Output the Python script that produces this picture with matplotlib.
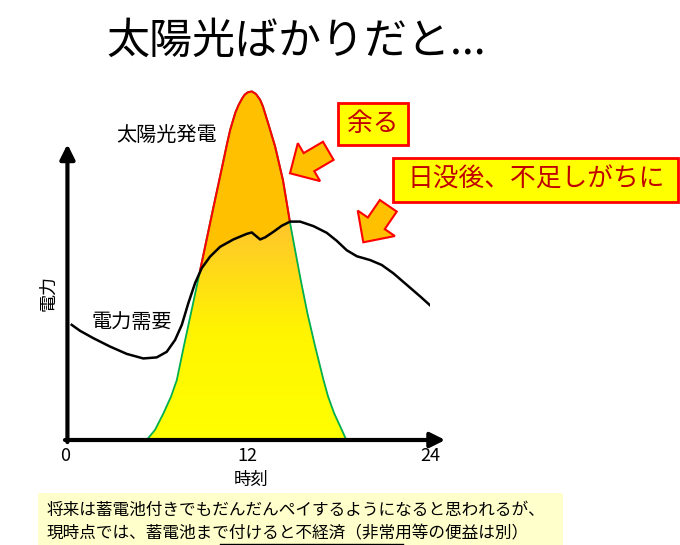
import numpy as np
import matplotlib
matplotlib.use('Agg')
import matplotlib.pyplot as plt
from matplotlib.colors import LinearSegmentedColormap
from matplotlib.patches import Rectangle, FancyArrow

plt.rcParams['font.family'] = ['Noto Sans CJK JP', 'DejaVu Sans']

# solar output over the day (hour, relative power)
solar_hours = [5.37, 5.92, 6.47, 6.97, 7.35, 7.81, 8.28, 8.75, 9.21, 9.67, 10.15,
               10.61, 10.86, 11.18, 11.4, 11.62, 11.8, 12.0, 12.28, 12.55, 12.83,
               13.0, 13.16, 13.49, 13.82, 14.33, 14.8, 15.09, 15.5, 15.94, 16.45,
               17.0, 17.3, 17.7, 18.2, 18.5]
solar_power = [0, 2.9, 7.6, 12.4, 17.1, 26.7, 36.2, 45.7, 55.2, 64.8, 74.3,
               83.8, 88.6, 93.3, 95.6, 97.4, 98.6, 99.3, 99.6, 98.9, 97.2,
               95.5, 93.3, 88.6, 83.8, 74.3, 62.0, 55.2, 45.7, 36.2, 26.7,
               17.1, 12.4, 7.6, 2.9, 0]

# electricity demand over the day
demand_hours = [0.44, 0.99, 1.86, 2.96, 4.06, 5.15, 6.03, 6.69, 7.24, 7.68, 8.11,
                8.55, 8.99, 9.54, 10.2, 11.07, 11.95, 12.28, 12.61, 12.83, 13.16,
                13.71, 14.25, 14.8, 15.46, 16.34, 17.21, 17.87, 18.53, 19.19, 20.07,
                20.83, 21.6, 22.48, 23.36, 24.23]
demand_power = [32.9, 31.2, 29.1, 26.7, 24.6, 23.3, 23.6, 25.2, 28.6, 32.9, 39.1,
                44.8, 49.1, 52.4, 55.2, 57.3, 58.9, 59.3, 58.1, 57.3, 57.9,
                59.5, 61.2, 62.4, 62.4, 61.1, 59.2, 56.9, 54.2, 52.5, 51.4,
                50.0, 47.6, 44.3, 41.0, 37.6]

hour_ticks = [0, 12, 24]

title = '太陽光ばかりだと...'
note_lines = ['将来は蓄電池付きでもだんだんペイするようになると思われるが、',
              '現時点では、蓄電池まで付けると不経済（非常用等の便益は別）']

fig = plt.figure(figsize=(6.8, 5.45), dpi=100)

# main chart axes: x 0..24 -> px 65..430, y 0..100 -> px 440..90
ax = fig.add_axes([65 / 680, 105 / 545, 365 / 680, 350 / 545])
for sp in ax.spines.values():
    sp.set_visible(False)

# whole solar area in orange (the surplus part stays orange)
ax.fill_between(solar_hours, solar_power, 0, color='#FFC000', lw=0, zorder=1)

# part of the solar area below demand gets the yellow gradient
grid = np.linspace(solar_hours[0], solar_hours[-1], 600)
s = np.interp(grid, solar_hours, solar_power)
d = np.interp(grid, demand_hours, demand_power)
lower = np.minimum(s, d)
clip = ax.fill_between(grid, lower, 0, facecolor='none', edgecolor='none')
cmap = LinearSegmentedColormap.from_list('sun', ['#FFFF00', '#FFF500', '#FFC52C'])
grad = np.linspace(0, 1, 256).reshape(-1, 1)
img = ax.imshow(grad, extent=[0, 24, 0, 62], origin='lower', aspect='auto',
                cmap=cmap, zorder=2)
img.set_clip_path(clip.get_paths()[0], transform=ax.transData)

# outlines
ax.plot(solar_hours, solar_power, color='#00B050', lw=1.3, zorder=3)
upper = np.where(s > d + 0.3, s, np.nan)
ax.plot(grid, upper, color='red', lw=1.5, zorder=3)
ax.plot(demand_hours, demand_power, color='black', lw=1.8, zorder=4)

ax.set_xlim(0, 24)
ax.set_ylim(0, 100)

# axis arrows
ax.annotate('', xy=(25.0, 0), xytext=(0.0, 0), annotation_clip=False,
            arrowprops=dict(arrowstyle='-|>', lw=3, color='black',
                            mutation_scale=22, shrinkA=0, shrinkB=0))
ax.annotate('', xy=(0.16, 84.5), xytext=(0.16, -0.6), annotation_clip=False,
            arrowprops=dict(arrowstyle='-|>', lw=3, color='black',
                            mutation_scale=22, shrinkA=0, shrinkB=0))

ax.set_xticks(hour_ticks)
ax.set_xticklabels([str(h) for h in hour_ticks])
ax.set_yticks([])
ax.tick_params(axis='x', length=0, pad=5, labelsize=13)
ax.set_xlabel('時刻', fontsize=12.5)
ax.xaxis.set_label_coords(0.51, -0.088)
ax.set_ylabel('電力', fontsize=13)
ax.yaxis.set_label_coords(-0.022, 0.42)

ax.text(6.71, 87.1, '太陽光発電', fontsize=14.5, ha='center', va='center', zorder=5)
ax.text(4.41, 33.7, '電力需要', fontsize=14.5, ha='center', va='center', zorder=5)

# overlay in pixel coordinates for title, callouts and note
ov = fig.add_axes([0, 0, 1, 1], zorder=5)
ov.set_xlim(0, 680)
ov.set_ylim(545, 0)
ov.axis('off')

ov.text(296, 42, title, fontsize=31, ha='center', va='center')

ov.add_patch(Rectangle((338, 103), 70, 42, fc='#FFFF00', ec='red', lw=2))
ov.text(373, 124, '余る', fontsize=18.5, color='#C00000', ha='center', va='center')
ov.add_patch(Rectangle((393, 158), 285, 44, fc='#FFFF00', ec='red', lw=2))
ov.text(536, 180, '日没後、不足しがちに', fontsize=18.5, color='#C00000',
        ha='center', va='center')

ov.add_patch(FancyArrow(328.3, 150.8, 290 - 328.3, 173.3 - 150.8, width=21,
                        head_width=44, head_length=22, length_includes_head=True,
                        fc='#FFC000', ec='red', lw=1.5))
ov.add_patch(FancyArrow(388.3, 205.8, 363.3 - 388.3, 242.3 - 205.8, width=20.5,
                        head_width=45, head_length=23, length_includes_head=True,
                        fc='#FFC000', ec='red', lw=1.5))

ov.add_patch(Rectangle((38, 493), 525, 60, fc='#FFFFCC', ec='none'))
ov.text(47, 510, note_lines[0], fontsize=12, ha='left', va='center')
ov.text(47, 534, note_lines[1], fontsize=12, ha='left', va='center')
ov.plot([220, 403], [543.5, 543.5], color='black', lw=1)

fig.savefig('out.png', dpi=100)
